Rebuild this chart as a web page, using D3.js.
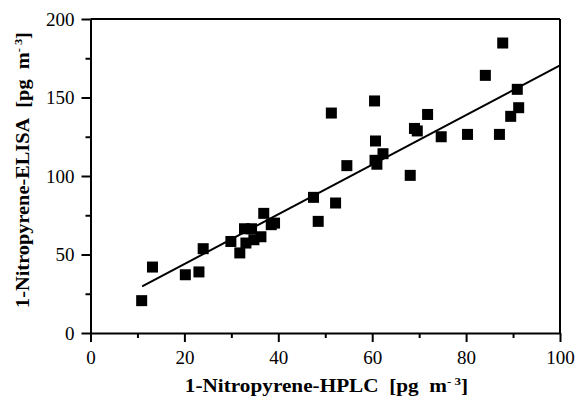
<!DOCTYPE html>
<html>
<head>
<meta charset="utf-8">
<script src="https://d3js.org/d3.v7.min.js"></script>
<style>
  body { margin: 0; background: white; }
  text { font-family: "Liberation Serif", "Times New Roman", serif; fill: black; }
</style>
</head>
<body>
<div id="chart"></div>
<script>
// points
hplc = [10.9, 13.2, 20.2, 23.1, 24.0, 29.9, 31.8, 32.8, 34.3, 33.1, 34.8, 36.3, 36.9, 38.5, 39.2,
        47.5, 48.5, 52.2, 54.6, 51.3, 60.5, 60.7, 62.3, 60.6, 61.0, 68.1, 69.0, 69.6, 71.8, 74.7,
        80.3, 84.1, 87.1, 87.8, 89.5, 90.9, 91.2]
elisa = [20.6, 42.0, 37.1, 38.9, 53.7, 58.3, 51.0, 66.4, 66.4, 57.3, 59.4, 61.3, 76.2, 69.0, 70.0,
         86.4, 71.1, 82.8, 106.6, 140.1, 147.8, 122.3, 114.2, 110.0, 107.5, 100.4, 130.3, 128.7, 139.2, 125.0,
         126.5, 164.1, 126.5, 184.7, 138.0, 155.2, 143.5]
// regression line end points
fitX = [11, 100]
fitY = [29.7, 170.4]
xTicks = [0, 20, 40, 60, 80, 100]
xMinor = [10, 30, 50, 70, 90]
yTicks = [0, 50, 100, 150, 200]
yMinor = [25, 75, 125, 175]

margin = {top: 19, right: 17, bottom: 71, left: 90.5},
width = 577 - margin.left - margin.right,
height = 404 - margin.top - margin.bottom;

svg = d3.select("#chart")
  .append("svg")
  .attr("width", 577)
  .attr("height", 404)
  .append("g")
  .attr("transform", `translate(${margin.left}, ${margin.top})`);

x = d3.scaleLinear().domain([0, 100]).range([0, width]);
y = d3.scaleLinear().domain([0, 200]).range([height, 0]);

// minor ticks first
svg.append("g")
  .attr("transform", `translate(0, ${height})`)
  .call(d3.axisBottom(x).tickValues(xMinor).tickSize(5).tickFormat(""))
  .call(g => g.select(".domain").remove())
  .selectAll("line").attr("stroke-width", 2);
svg.append("g")
  .call(d3.axisLeft(y).tickValues(yMinor).tickSize(5).tickFormat(""))
  .call(g => g.select(".domain").remove())
  .selectAll("line").attr("stroke-width", 2);

xAxis = svg.append("g")
  .attr("transform", `translate(0, ${height})`)
  .call(d3.axisBottom(x).tickValues(xTicks).tickSize(9).tickSizeOuter(0).tickPadding(9));
xAxis.selectAll("line").attr("stroke-width", 2);
xAxis.select(".domain").attr("stroke-width", 2);
xAxis.selectAll("text").style("font-size", "19px");

yAxis = svg.append("g")
  .call(d3.axisLeft(y).tickValues(yTicks).tickSize(9).tickSizeOuter(0).tickPadding(7));
yAxis.selectAll("line").attr("stroke-width", 2);
yAxis.select(".domain").attr("stroke-width", 2);
yAxis.selectAll("text").style("font-size", "19px");

// top and right frame
svg.append("line")
  .attr("x1", x(0)).attr("x2", x(100)).attr("y1", y(200)).attr("y2", y(200))
  .attr("stroke", "black").attr("stroke-width", 2);
svg.append("line")
  .attr("x1", x(100)).attr("x2", x(100)).attr("y1", y(200)).attr("y2", y(0))
  .attr("stroke", "black").attr("stroke-width", 2);

// fit line
svg.append("line")
  .attr("x1", x(fitX[0])).attr("y1", y(fitY[0]))
  .attr("x2", x(fitX[1])).attr("y2", y(fitY[1]))
  .attr("stroke", "black").attr("stroke-width", 2);

// the squares
sz = 11
svg.selectAll()
  .data(d3.range(hplc.length))
  .join("rect")
    .attr("x", function(i) { return x(hplc[i]) - sz / 2 })
    .attr("y", function(i) { return y(elisa[i]) - sz / 2 })
    .attr("width", sz)
    .attr("height", sz)
    .style("fill", "black");

// axis titles (the scanned type is wide, so stretch it a bit)
function title(g, label) {
  t = g.append("text")
    .attr("text-anchor", "middle")
    .style("font-size", "18px")
    .style("font-weight", "bold");
  t.append("tspan").text(label + "\u00a0\u00a0[pg\u00a0\u00a0m");
  t.append("tspan").attr("dy", -7).style("font-size", "11px").text("-\u00a0");
  t.append("tspan").style("font-size", "11px").text("3");
  t.append("tspan").attr("dy", 7).text("]");
}
title(svg.append("g").attr("transform", "translate(236, 373) scale(1.18, 1)"), "1-Nitropyrene-HPLC");
title(svg.append("g").attr("transform", "translate(-62, 151) rotate(-90) scale(1.13, 1)"), "1-Nitropyrene-ELISA");
</script>
</body>
</html>
